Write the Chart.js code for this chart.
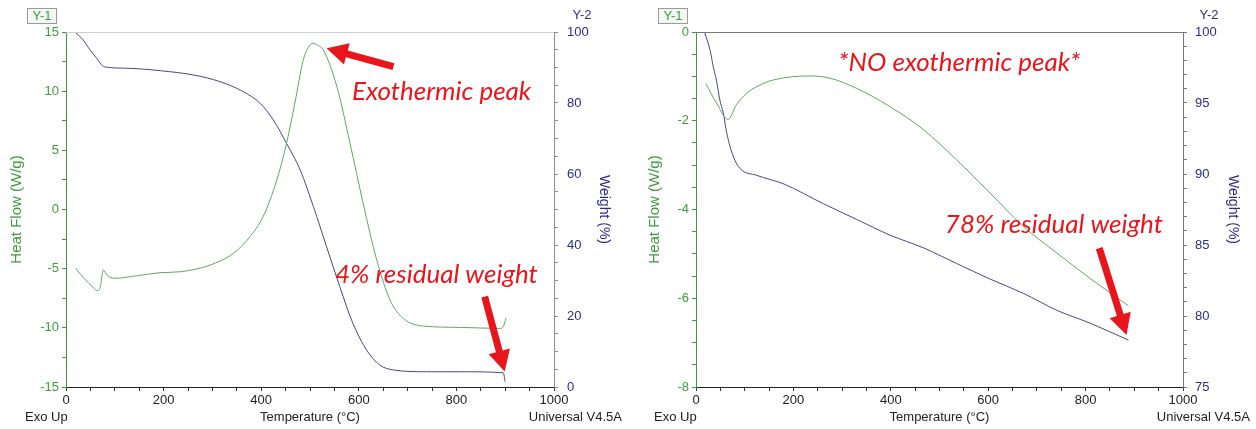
<!DOCTYPE html>
<html><head><meta charset="utf-8">
<script src="https://cdn.jsdelivr.net/npm/chart.js@4.4.1/dist/chart.umd.min.js"></script>
<style>
html,body{margin:0;padding:0;background:#fff;}
#wrap{position:relative;width:1256px;height:429px;background:#fff;}
canvas{position:absolute;top:0;}
</style></head><body>
<div id="wrap">
<canvas id="c1" width="628" height="429" style="left:0px"></canvas>
<canvas id="c2" width="628" height="429" style="left:628px"></canvas>
</div>
<script>
// ---------- DATA ----------
// Left panel (sample with exothermic peak)
const tempHeatA = [20, 30, 40, 55, 64, 70, 76.5, 84, 100, 145, 193, 234, 295, 343, 377, 404, 432, 452, 469, 486, 498, 506, 515, 527, 555, 582, 609, 637, 664, 691, 732, 807, 889, 896, 902];
const heatFlowA = [-4.97, -5.5, -5.95, -6.55, -6.86, -6.6, -5.11, -5.55, -5.81, -5.6, -5.34, -5.26, -4.7, -3.7, -2.3, -0.6, 2.5, 5.6, 9.0, 12.6, 13.8, 14.04, 13.9, 13.5, 10.4, 5.6, 0.5, -4.3, -7.65, -9.2, -9.85, -9.96, -10.05, -9.9, -9.15];
const tempWeightA = [20, 35, 49, 63, 72, 78, 124, 193, 261, 316, 363, 398, 425, 452, 480, 507, 534, 561, 588, 616, 643, 671, 739, 807, 896, 900];
const weightA = [99.8, 97.8, 95.0, 92.6, 90.9, 90.2, 89.8, 89.1, 87.9, 86.0, 83.2, 79.9, 75.2, 68.6, 61.1, 50.8, 39.5, 28.3, 17.9, 10.4, 6.2, 4.8, 4.3, 4.3, 4.0, 1.5];

// Right panel (sample with no exothermic peak)
const tempHeatB = [20, 42, 66, 83, 104, 125, 159, 234, 275, 330, 398, 467, 535, 604, 672, 741, 809, 888];
const heatFlowB = [-1.16, -1.6, -1.97, -1.64, -1.38, -1.23, -1.08, -0.99, -1.04, -1.27, -1.68, -2.2, -2.88, -3.63, -4.38, -4.98, -5.55, -6.17];
const tempWeightB = [18, 29, 35.5, 42, 49, 56, 63, 77, 90, 125, 180, 262, 330, 398, 467, 535, 604, 672, 741, 809, 888];
const weightB = [99.95, 98.7, 97.55, 96.6, 95.2, 94.3, 92.9, 91.2, 90.4, 89.9, 89.3, 87.9, 86.8, 85.7, 84.8, 83.7, 82.6, 81.6, 80.4, 79.5, 78.3];

// Tick settings
const xTicks = {min: 0, max: 1000, step: 50, labelEvery: 200};
const yTicksA = {min: -15, max: 15, step: 2.5, labelEvery: 5};
const y2TicksA = {min: 0, max: 100, step: 5, labelEvery: 20};
const yTicksB = {min: -8, max: 0, step: 0.5, labelEvery: 2};
const y2TicksB = {min: 75, max: 100, step: 1, labelEvery: 5};

// Texts
const xTitle = 'Temperature (°C)';
const yTitle = 'Heat Flow (W/g)';
const y2Title = 'Weight (%)';
const cornerLeft = 'Exo Up';
const cornerRight = 'Universal V4.5A';

// Annotations in data coordinates (x: °C, y: heat flow)
const notesA = [
  {text: 'Exothermic peak', x: 586, y: 10.0},
  {text: '4% residual weight', x: 551, y: -5.5}
];
const arrowsA = [
  {from: [671, 12.07], to: [534, 13.62]},
  {from: [858, -7.37], to: [899, -13.7]}
];
const notesB = [
  {text: '*NO exothermic peak*', x: 292, y: -0.69},
  {text: '78% residual weight', x: 511, y: -4.35}
];
const arrowsB = [
  {from: [828, -4.87], to: [884, -6.83]}
];

// ---------- STYLE ----------
const GREEN = '#3f9a3f';
const GREEN_LINE = '#62a462';
const NAVY = '#2b2b8c';
const NAVY_LINE = '#46468c';
const RED = '#e8161b';
const FONT = '"Liberation Sans", Arial, sans-serif';
const NOTE_FONT = 'italic 26px Lato, "Open Sans", sans-serif';

function pts(xs, ys) { return xs.map((x, i) => ({x: x, y: ys[i]})); }

function drawArrow(ctx, x1, y1, x2, y2) {
  const ang = Math.atan2(y2 - y1, x2 - x1);
  const len = Math.hypot(x2 - x1, y2 - y1);
  const headL = 21, headW = 11, shaft = 3.5;
  ctx.save();
  ctx.translate(x1, y1);
  ctx.rotate(ang);
  ctx.beginPath();
  ctx.moveTo(0, -shaft);
  ctx.lineTo(len - headL, -shaft);
  ctx.lineTo(len - headL, -headW);
  ctx.lineTo(len, 0);
  ctx.lineTo(len - headL, headW);
  ctx.lineTo(len - headL, shaft);
  ctx.lineTo(0, shaft);
  ctx.closePath();
  ctx.fillStyle = RED;
  ctx.fill();
  ctx.restore();
}

function makeChart(canvasId, cfg) {
  const deco = {
    id: 'deco' + canvasId,
    afterDraw(chart) {
      const ctx = chart.ctx;
      const a = chart.chartArea;
      const xs = chart.scales.x, ys = chart.scales.y;
      ctx.save();
      // top border
      ctx.strokeStyle = cfg.topColor;
      ctx.lineWidth = 1;
      ctx.beginPath();
      ctx.moveTo(a.left, Math.round(a.top) + 0.5);
      ctx.lineTo(a.right, Math.round(a.top) + 0.5);
      ctx.stroke();
      // Y-1 box
      ctx.font = '13px ' + FONT;
      ctx.textBaseline = 'middle';
      ctx.textAlign = 'center';
      ctx.fillStyle = '#f4f8f4';
      ctx.fillRect(cfg.y1Box[0], 8, 29, 15);
      ctx.strokeStyle = '#9a9a9a';
      ctx.strokeRect(cfg.y1Box[0] + 0.5, 8.5, 29, 15);
      ctx.fillStyle = GREEN;
      ctx.fillText('Y-1', cfg.y1Box[0] + 15, 16);
      ctx.fillStyle = NAVY;
      ctx.fillText('Y-2', cfg.y2Label, 15);
      // corner texts
      ctx.font = '13px ' + FONT;
      ctx.fillStyle = '#222';
      ctx.textAlign = 'left';
      ctx.fillText(cornerLeft, cfg.cornerL, 417);
      ctx.textAlign = 'right';
      ctx.fillText(cornerRight, 622, 417);
      // annotations
      ctx.font = NOTE_FONT;
      ctx.fillStyle = RED;
      ctx.textAlign = 'left';
      ctx.textBaseline = 'middle';
      cfg.notes.forEach(n => {
        ctx.fillText(n.text, xs.getPixelForValue(n.x), ys.getPixelForValue(n.y));
      });
      cfg.arrows.forEach(ar => {
        drawArrow(ctx, xs.getPixelForValue(ar.from[0]), ys.getPixelForValue(ar.from[1]),
                       xs.getPixelForValue(ar.to[0]), ys.getPixelForValue(ar.to[1]));
      });
      ctx.restore();
    }
  };
  const tickCb = (t) => (v) => (Math.abs(v / t.labelEvery - Math.round(v / t.labelEvery)) < 1e-6 ? String(Math.round(v * 100) / 100) : '');
  return new Chart(document.getElementById(canvasId), {
    type: 'line',
    data: {
      datasets: [
        {data: pts(cfg.tH, cfg.hf), yAxisID: 'y', borderColor: GREEN_LINE, borderWidth: 1, pointRadius: 0, cubicInterpolationMode: 'monotone', fill: false},
        {data: pts(cfg.tW, cfg.w), yAxisID: 'y2', borderColor: NAVY_LINE, borderWidth: 1, pointRadius: 0, cubicInterpolationMode: 'monotone', fill: false}
      ]
    },
    options: {
      responsive: false,
      animation: false,
      devicePixelRatio: 1,
      layout: {padding: {top: 32, left: 0, right: 0, bottom: 0}},
      plugins: {legend: {display: false}, tooltip: {enabled: false}},
      scales: {
        x: {
          type: 'linear', position: 'bottom', min: xTicks.min, max: xTicks.max,
          ticks: {stepSize: xTicks.step, autoSkip: false, maxRotation: 0, padding: 2, color: '#222', font: {size: 13, family: FONT}, callback: tickCb(xTicks)},
          grid: {drawOnChartArea: false, drawTicks: true, tickLength: 4, color: '#333', tickColor: '#333'},
          border: {display: true, color: '#222', width: 1},
          title: {display: true, text: xTitle, color: '#222', font: {size: 13, family: FONT}, padding: {top: 0, bottom: 4}},
          afterFit: s => { s.height = 42; }
        },
        y: {
          type: 'linear', position: 'left', min: cfg.yT.min, max: cfg.yT.max,
          ticks: {stepSize: cfg.yT.step, autoSkip: false, padding: 3, color: GREEN, font: {size: 13, family: FONT}, callback: tickCb(cfg.yT)},
          grid: {drawOnChartArea: false, drawTicks: true, tickLength: 4, color: GREEN, tickColor: GREEN},
          border: {display: true, color: GREEN, width: 1},
          title: {display: true, text: yTitle, color: GREEN, font: {size: 15, family: FONT}, padding: {top: cfg.yTitlePad, bottom: 0}},
          afterFit: s => { s.width = cfg.leftW; }
        },
        y2: {
          type: 'linear', position: 'right', min: cfg.y2T.min, max: cfg.y2T.max,
          ticks: {stepSize: cfg.y2T.step, autoSkip: false, padding: cfg.y2Pad, color: NAVY, font: {size: 13, family: FONT}, callback: tickCb(cfg.y2T)},
          grid: {drawOnChartArea: false, drawTicks: true, tickLength: 4, color: cfg.rightAxisColor, tickColor: cfg.rightAxisColor},
          border: {display: true, color: cfg.rightAxisColor, width: 1},
          title: {display: true, text: y2Title, color: NAVY, font: {size: 14, family: FONT}, padding: {top: cfg.y2TitlePad, bottom: 0}},
          afterFit: s => { s.width = cfg.rightW; }
        }
      }
    },
    plugins: [deco]
  });
}

makeChart('c1', {
  tH: tempHeatA, hf: heatFlowA, tW: tempWeightA, w: weightA,
  yT: yTicksA, y2T: y2TicksA, leftW: 66, rightW: 74,
  yTitlePad: 8, y2TitlePad: 16, y2Pad: 9,
  rightAxisColor: '#8a8aa6', topColor: '#cfcfcf',
  y1Box: [27], y2Label: 582, cornerL: 25,
  notes: notesA, arrows: arrowsA
});
makeChart('c2', {
  tH: tempHeatB, hf: heatFlowB, tW: tempWeightB, w: weightB,
  yT: yTicksB, y2T: y2TicksB, leftW: 68, rightW: 73,
  yTitlePad: 18, y2TitlePad: 15, y2Pad: 8,
  rightAxisColor: '#777777', topColor: '#777777',
  y1Box: [30], y2Label: 581, cornerL: 26,
  notes: notesB, arrows: arrowsB
});
</script>
</body></html>
